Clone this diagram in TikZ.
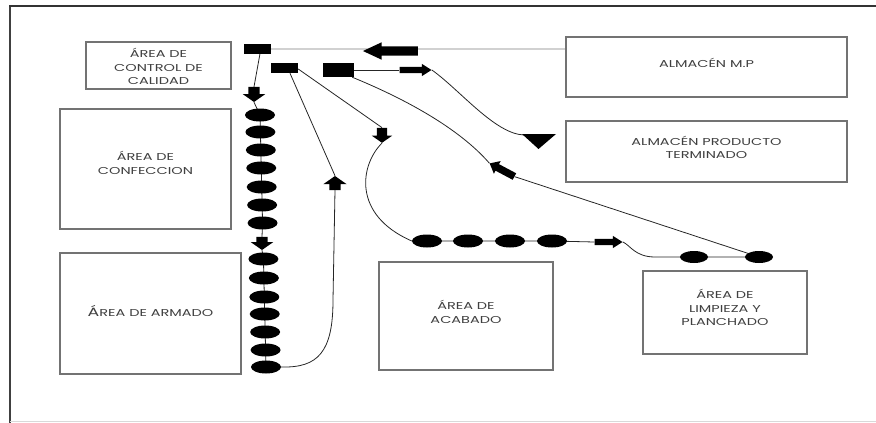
\documentclass[tikz,border=0pt]{standalone}
\usepackage{fontspec}
\setmainfont{Poppins}[FakeStretch=1.45]
\usetikzlibrary{shapes.geometric,shapes.arrows,calc,backgrounds}

\begin{document}
\begin{tikzpicture}[x=1pt,y=-1pt,
  area/.style={draw=black!55, line width=1.2pt, fill=white, inner sep=0pt},
  lbl/.style={align=center, text=black!75, inner sep=0pt,
    font=\fontsize{10}{13.5}\selectfont},
  station/.style={rectangle, fill=black, inner sep=0pt},
  dot/.style={ellipse, fill=black, inner sep=0pt, minimum width=30pt, minimum height=13pt},
  blockarrow/.style={single arrow, fill=black, draw=none, inner xsep=0pt,
    minimum width=0pt},
  flow/.style={draw=black!85, line width=0.8pt},
]
\useasboundingbox (0,0) rectangle (876,423);

% page frame
\draw[black!75, line width=2.6pt] (10,423) -- (10,6);
\draw[black!80, line width=1.6pt] (9,6) -- (876,6);
\draw[black!15, line width=1.2pt] (10,421.5) -- (876,421.5);

% work areas
\node[area, minimum width=145pt, minimum height=47pt] (qc) at (158.5,65.5) {};
\node[lbl] (qc-t) at ($(qc.center)+(0,1)$) {ÁREA DE\\CONTROL DE\\CALIDAD};
\node[area, minimum width=171pt, minimum height=120pt] (conf) at (145.5,169) {};
\node[lbl] (conf-t) at ($(conf.center)+(0,-6)$) {ÁREA DE\\CONFECCION};
\node[area, minimum width=181pt, minimum height=121pt] (arm) at (150.5,313.5) {};
\node[lbl] (arm-t) at ($(arm.center)+(0,-3)$)
  {{\fontsize{12}{13.5}\selectfont Á}{\fontsize{10}{13.5}\selectfont REA DE ARMADO}};
\node[area, minimum width=174pt, minimum height=108pt] (acab) at (466,316) {};
\node[lbl] (acab-t) at ($(acab.center)+(0,-4)$) {ÁREA DE\\ACABADO};
\node[area, minimum width=164pt, minimum height=83pt] (limp) at (725,312.5) {};
\node[lbl] (limp-t) at ($(limp.center)+(0,-5)$) {ÁREA DE\\LIMPIEZA Y\\PLANCHADO};
\node[area, minimum width=281pt, minimum height=60pt] (mp) at (706.5,67) {};
\node[lbl] (mp-t) at ($(mp.center)+(0,-4)$) {ALMACÉN M.P};
\node[area, minimum width=281pt, minimum height=61pt] (pt) at (706.5,151.5) {};
\node[lbl] (pt-t) at ($(pt.center)+(0,-4)$) {ALMACÉN PRODUCTO\\TERMINADO};

% inspection stations
\node[station, minimum width=27pt, minimum height=10pt] (rA) at (257.5,49) {};
\node[station, minimum width=27pt, minimum height=10pt] (rB) at (284.5,68) {};
\node[station, minimum width=31pt, minimum height=14pt] (rC) at (338.5,70) {};

% operations along the sewing line
\foreach \i/\yy in {1/115,2/132,3/150,4/168,5/187,6/205,7/223,
                    8/259,9/278,10/297,11/314,12/332,13/350,14/367}{
  \node[dot] (e\i) at ({260+6*(\yy-115)/252},\yy) {};
}
% finishing operations
\node[dot] (g1) at (427,241) {};
\node[dot] (g2) at (468,241) {};
\node[dot] (g3) at (510,241) {};
\node[dot] (g4) at (552,241) {};
\node[dot, minimum width=28pt, minimum height=12pt] (h1) at (694,257) {};
\node[dot, minimum width=28pt, minimum height=12pt] (h2) at (759,257) {};

% transport arrows
\node[blockarrow, minimum height=55pt, inner ysep=4.5pt, single arrow head extend=4pt,
  single arrow tip angle=50, rotate=180] (aL) at (395.5,51) {};
\node[blockarrow, minimum height=32pt, inner ysep=3pt, single arrow head extend=3pt,
  single arrow tip angle=65] (aR1) at (413,70) {};
\node[blockarrow, minimum height=15pt, inner ysep=5.5pt, single arrow head extend=5.5pt,
  single arrow tip angle=110, rotate=-90] (aD1) at (254,92.5) {};
\node[blockarrow, minimum height=13pt, inner ysep=5.5pt, single arrow head extend=5.5pt,
  single arrow tip angle=110, rotate=-90] (aD2) at (262,241.5) {};
\node[blockarrow, minimum height=14pt, inner ysep=5.5pt, single arrow head extend=6pt,
  single arrow tip angle=110, rotate=90] (aU) at (335,185) {};
\node[blockarrow, minimum height=15pt, inner ysep=5pt, single arrow head extend=5pt,
  single arrow tip angle=110, rotate=-90] (aD3) at (382,133.5) {};
\node[blockarrow, minimum height=28pt, inner ysep=3pt, single arrow head extend=3pt,
  single arrow tip angle=65] (aR2) at (606,242) {};
\node[blockarrow, minimum height=28pt, inner ysep=3.5pt, single arrow head extend=3.5pt,
  single arrow tip angle=80, rotate=152] (aUL) at (504,171) {};

% finished goods store
\coordinate (tri) at (524,135);
\fill[black] (522,134) -- (556,134) -- (538.5,149) -- cycle;

\begin{scope}[on background layer]
  % raw material supply
  \draw[black!18, line width=1.4pt] (rA.east) -- (rA.east -| mp.west);
  % sewing line
  \draw[flow] (aD1.north |- rA.south) -- (aD1.tail);
  \draw[flow] (aD1.tip) -- (e1.center) -- (e2.center) -- (e3.center) -- (e4.center)
    -- (e5.center) -- (e6.center) -- (e7.center) -- (aD2.tail);
  \draw[flow] (aD2.tip) -- (e8.center) -- (e9.center) -- (e10.center) -- (e11.center)
    -- (e12.center) -- (e13.center) -- (e14.center);
  % back to inspection
  \draw[flow] (e14.east) .. controls (318,368) and (333,352) .. (333,300) -- (aU.tail);
  \draw[flow] (aU.tip) -- ($(rB.south)!0.4!(rB.south east)$);
  % to finishing
  \draw[flow] ($(rB.east)+(0,1)$) -- (aD3.tail);
  \draw[flow] (aD3.tip) .. controls (360,165) and (352,215) .. (g1.west);
  \draw[flow] (g1.center) -- (g2.center) -- (g3.center) -- (g4.center) -- (aR2.tail);
  \draw[flow] (aR2.tip) .. controls (630,245) and (635,257) .. (655,257) -- (h1.center) -- (h2.center);
  % return from pressing
  \draw[flow] (h2.center) -- (aUL.tail);
  \draw[flow] (aUL.tip) .. controls (465,135) and (420,105) .. ($(rC.south east)+(-2,0)$);
  % dispatch to store
  \draw[flow] (rC.east) -- (aR1.tail);
  \draw[flow] (aR1.tip) .. controls (460,90) and (495,134) .. (tri);
\end{scope}
\end{tikzpicture}
\end{document}
